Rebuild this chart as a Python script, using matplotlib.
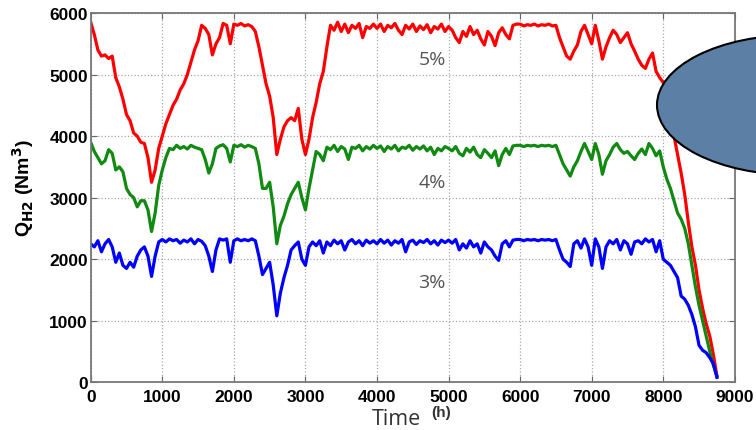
import matplotlib.pyplot as plt
import numpy as np
from matplotlib.patches import Ellipse

plt.rcParams["font.family"] = ["Liberation Sans", "DejaVu Sans"]

# sample times (h), one value every 50 h
time_h = np.arange(0, 8800, 50)

# Q_H2 in Nm3
q_5pct = [
    5850, 5650, 5400, 5300, 5320, 5260, 5300, 4950, 4800, 4600, 4350, 4250, 4050, 4000, 3900, 3880, 3650, 3250, 3450, 3800,
    4000, 4200, 4350, 4500, 4600, 4750, 4850, 5000, 5200, 5400, 5550, 5800, 5750, 5650, 5320, 5500, 5600, 5830, 5800, 5500,
    5820, 5800, 5830, 5790, 5810, 5780, 5700, 5450, 5150, 4850, 4650, 4300, 3700, 3950, 4150, 4250, 4300, 4250, 4450, 3950,
    3700, 3950, 4300, 4550, 4850, 5050, 5450, 5800, 5720, 5850, 5700, 5820, 5680, 5800, 5750, 5830, 5600, 5780, 5750, 5820,
    5750, 5820, 5700, 5800, 5760, 5830, 5720, 5650, 5800, 5740, 5820, 5700, 5790, 5730, 5810, 5680, 5780, 5740, 5820, 5700,
    5780, 5720, 5600, 5520, 5700, 5620, 5780, 5650, 5720, 5580, 5480, 5700, 5620, 5470, 5680, 5760, 5650, 5580, 5800, 5820,
    5820, 5790, 5810, 5800, 5820, 5790, 5810, 5800, 5820, 5790, 5800, 5600, 5450, 5300, 5250, 5380, 5480, 5700, 5800, 5650,
    5500, 5800, 5550, 5250, 5450, 5600, 5720, 5650, 5520, 5600, 5680, 5500, 5380, 5250, 5150, 5100, 5250, 5350, 5050, 4950,
    4870, 4600, 4300, 4000, 3700, 3400, 3050, 2600, 2200, 1900, 1500, 1200, 950, 750, 450, 100,
]
q_4pct = [
    3900, 3750, 3650, 3550, 3600, 3780, 3720, 3450, 3500, 3420, 3150, 3050, 3000, 2850, 2950, 2950, 2800, 2450, 2750, 3200,
    3450, 3650, 3800, 3780, 3850, 3800, 3830, 3790, 3850, 3820, 3800, 3780, 3620, 3400, 3550, 3800, 3840, 3860, 3800, 3580,
    3850, 3830, 3860, 3820, 3850, 3830, 3800, 3550, 3150, 3150, 3250, 2850, 2250, 2550, 2700, 2900, 3050, 3150, 3250, 3000,
    2800, 3150, 3450, 3750, 3700, 3600, 3820, 3780, 3850, 3750, 3830, 3790, 3620, 3820, 3800, 3850, 3760, 3830, 3790, 3850,
    3800, 3840, 3750, 3830, 3790, 3850, 3760, 3820, 3800, 3850, 3770, 3830, 3790, 3840, 3760, 3820, 3700, 3800, 3760, 3830,
    3800, 3760, 3830, 3720, 3680, 3800, 3740, 3820, 3700, 3650, 3780, 3720, 3650, 3760, 3520, 3700, 3800, 3700, 3840, 3850,
    3850, 3830, 3850, 3840, 3850, 3830, 3850, 3840, 3850, 3830, 3850, 3700, 3550, 3450, 3350, 3500, 3600, 3750, 3880, 3750,
    3620, 3880, 3700, 3380, 3600, 3700, 3820, 3880, 3780, 3720, 3750, 3680, 3620, 3720, 3790, 3700, 3880, 3800, 3680, 3760,
    3500, 3300, 3150, 2950, 2750, 2650, 2500, 2250, 1900, 1550, 1250, 1000, 750, 500, 280, 100,
]
q_3pct = [
    2250, 2200, 2300, 2120, 2250, 2320, 2200, 1950, 2100, 1900, 1850, 1950, 1870, 2050, 2150, 2200, 2050, 1720, 2050, 2280,
    2320, 2280, 2330, 2300, 2320, 2260, 2310, 2280, 2330, 2250, 2320, 2290, 2220, 2050, 1800, 2150, 2330, 2310, 2330, 1950,
    2300, 2330, 2300, 2320, 2300, 2330, 2300, 2050, 1750, 1850, 1950, 1580, 1080, 1450, 1700, 1900, 2150, 2220, 2280, 2000,
    1900, 2200, 2280, 2220, 2300, 2100, 2280, 2220, 2310, 2250, 2300, 2150, 2280, 2320, 2250, 2300, 2220, 2310, 2260, 2300,
    2250, 2320, 2260, 2310, 2230, 2300, 2260, 2320, 2120, 2280, 2310, 2240, 2300, 2270, 2320, 2250, 2300, 2230, 2310, 2270,
    2310, 2260, 2320, 2150, 2250, 2180, 2300, 2200, 2250, 2100, 2280, 2200, 2150, 2050, 1980, 2250, 2300, 2200, 2310, 2320,
    2320, 2300, 2320, 2310, 2320, 2300, 2320, 2310, 2320, 2300, 2320, 2150, 2000, 1950, 1880, 2250, 2300, 2180, 2330, 2200,
    1900, 2330, 2200, 1850, 2200, 2300, 2250, 2320, 2150, 2300, 2250, 2080, 2280, 2300, 2250, 2330, 2280, 2320, 2120, 2300,
    2000, 1950, 1900, 1800, 1700, 1400, 1350, 1250, 1100, 900, 600, 520, 480, 400, 300, 80,
]

series = [("5%", q_5pct, "#ff0000", 5250), ("4%", q_4pct, "#108a10", 3250), ("3%", q_3pct, "#0000ff", 1630)]

fig = plt.figure(figsize=(7.56, 4.31), dpi=100)
ax = fig.add_axes([0.120, 0.1107, 0.852, 0.8568])

for name, vals, col, ytxt in series:
    ax.plot(time_h, vals, color=col, lw=2.3)
    ax.text(4770, ytxt, name, color="#555555", fontsize=14, family="Open Sans",
            ha="center", va="center")

ax.set_xlim(0, 9000)
ax.set_ylim(0, 6000)
ax.set_xticks(range(0, 10000, 1000))
ax.set_yticks(range(0, 7000, 1000))
ax.grid(True, linestyle=":", color="#a8a8a8", lw=0.9)
ax.tick_params(direction="in", top=True, right=True, length=4, color="#666666",
               labelsize=12.5)
ax.tick_params(axis="x", pad=5)
ax.tick_params(axis="y", pad=2)
for lab in ax.get_xticklabels() + ax.get_yticklabels():
    lab.set_fontweight("bold")
for sp in ax.spines.values():
    sp.set_color("#777777")
    sp.set_linewidth(1.3)

ax.set_ylabel(r"Q$_{\mathbf{H2}}$ (Nm$^{\mathbf{3}}$)", fontsize=14, fontweight="bold")
ax.yaxis.set_label_coords(-0.085, 0.53)

# x label: "Time" with a small bold "(h)"
fig.text(0.492, 0.014, "Time", fontsize=15.5, family="Open Sans", color="#333333", ha="left", va="baseline")
fig.text(0.570, 0.032, "(h)", fontsize=11, fontweight="bold", color="#333333", ha="left", va="baseline")

# blue bubble cut by the right edge
bubble = Ellipse((795 / 756, 1 - 106 / 431), 276 / 756, 140 / 431, transform=fig.transFigure,
                 facecolor="#5b7fa5", edgecolor="black", lw=1.5)
fig.add_artist(bubble)

fig.savefig("out.png", dpi=100)
